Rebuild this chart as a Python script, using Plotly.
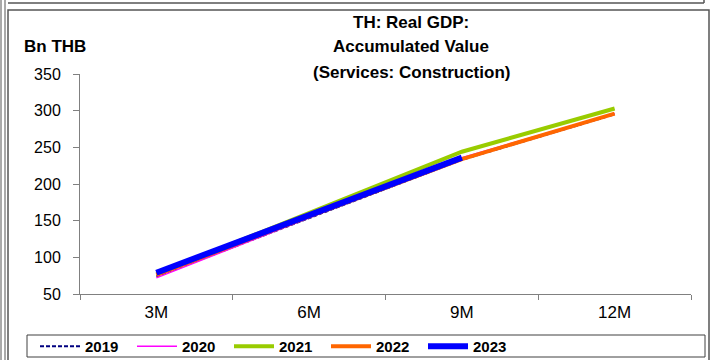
import plotly.graph_objects as go

categories = ["3M", "6M", "9M", "12M"]
y2019 = [74, 154, 233, 295]
y2020 = [72, 154, 236, 296]
y2021 = [77, 161, 244, 303]
y2022 = [76, 156, 234, 296]
y2023 = [79, 158, 236]
title_lines = ["TH: Real GDP:", "Accumulated Value", "(Services: Construction)"]

W, H = 712, 360
L, R, T, B = 80, 21, 74, 66
PW, PH = W - L - R, H - T - B

def px(x):
    return (x - L) / PW

def py(y):
    return (H - B - y) / PH

fig = go.Figure()
fig.add_trace(go.Scatter(x=categories, y=y2019, name="<b>2019</b>", mode="lines",
                         line=dict(color="#000080", width=2, dash="4px,2px")))
fig.add_trace(go.Scatter(x=categories, y=y2020, name="<b>2020</b>", mode="lines",
                         line=dict(color="#FF00FF", width=1.5)))
fig.add_trace(go.Scatter(x=categories, y=y2021, name="<b>2021</b>", mode="lines",
                         line=dict(color="#99CC00", width=4)))
fig.add_trace(go.Scatter(x=categories, y=y2022, name="<b>2022</b>", mode="lines",
                         line=dict(color="#FF6600", width=4)))
fig.add_trace(go.Scatter(x=categories[:len(y2023)], y=y2023, name="<b>2023</b>", mode="lines",
                         line=dict(color="#0000FF", width=6)))

frame = "#555555"
shapes = [
    dict(type="line", xref="paper", yref="paper", x0=px(1), x1=px(1), y0=py(0), y1=py(360), line=dict(color=frame, width=1)),
    dict(type="line", xref="paper", yref="paper", x0=px(5), x1=px(5), y0=py(0), y1=py(360), line=dict(color=frame, width=1)),
    dict(type="line", xref="paper", yref="paper", x0=px(8), x1=px(704), y0=py(3), y1=py(3), line=dict(color=frame, width=1.5)),
    dict(type="line", xref="paper", yref="paper", x0=px(704), x1=px(704), y0=py(0), y1=py(3), line=dict(color=frame, width=1.5)),
    dict(type="rect", xref="paper", yref="paper", x0=px(8), x1=px(709), y0=py(10), y1=py(365), line=dict(color=frame, width=1.5)),
    # legend border
    dict(type="rect", xref="paper", yref="paper", x0=px(27), x1=px(705), y0=py(335), y1=py(357), line=dict(color="#404040", width=1)),
]

annotations = [dict(text="<b>Bn THB</b>", x=px(22), y=py(47), xref="paper", yref="paper",
                    xanchor="left", yanchor="middle", showarrow=False,
                    font=dict(size=17, color="black"))]
for i, t in enumerate(title_lines):
    annotations.append(dict(text="<b>" + t + "</b>", x=px(411), y=py(22 + 25 * i), xref="paper", yref="paper",
                            xanchor="center", yanchor="middle", showarrow=False,
                            font=dict(size=17, color="black")))

fig.update_layout(
    width=W, height=H,
    margin=dict(l=L, r=R, t=T, b=B, autoexpand=False),
    plot_bgcolor="white", paper_bgcolor="white",
    font=dict(family="Liberation Sans, Arial, sans-serif", color="black"),
    xaxis=dict(showline=True, linecolor="#808080", linewidth=1, ticks="outside",
               tickson="boundaries", ticklen=5, tickcolor="#808080", showgrid=False,
               tickfont=dict(size=17), range=[-0.5, 3.5], zeroline=False,
               ticklabelstandoff=3),
    yaxis=dict(showline=True, linecolor="#808080", linewidth=1, ticks="outside",
               ticklen=6, tickcolor="#808080", showgrid=False, range=[50, 350],
               dtick=50, tickfont=dict(size=16), zeroline=False,
               ticklabelstandoff=9),
    showlegend=True,
    legend=dict(orientation="h", x=px(35), y=py(330), xanchor="left", yanchor="top",
                borderwidth=0, bgcolor="rgba(0,0,0,0)",
                font=dict(size=15, color="black"), entrywidth=42, entrywidthmode="pixels",
                itemwidth=40, tracegroupgap=0),
    annotations=annotations,
    shapes=shapes,
)

fig.write_html("out.html", config={"displayModeBar": False},
               post_script="document.body.style.margin='0px';document.body.style.overflow='hidden';")
